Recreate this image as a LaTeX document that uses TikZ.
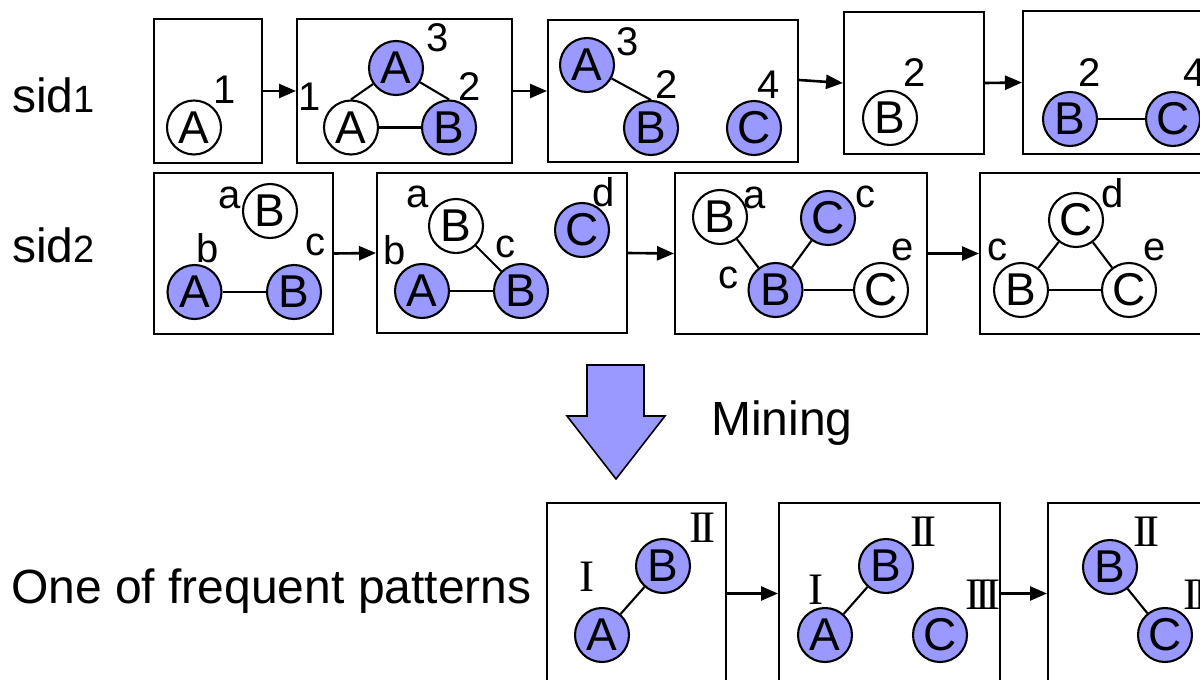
\documentclass[tikz,border=0pt]{standalone}
\usepackage{fontspec}
\setmainfont{Liberation Sans}
\newfontfamily\rmserif{Liberation Serif}
\usetikzlibrary{arrows.meta}
\definecolor{nodeblue}{HTML}{9999FF}
\newcommand{\numI}{{\rmserif I}}
\newcommand{\numII}{{\rmserif I\kern-0.09em I}}
\newcommand{\numIII}{{\rmserif I\kern-0.11em I\kern-0.11em I}}
\begin{document}
\begin{tikzpicture}[x=1pt,y=-1pt,
  frame/.style={draw=black, line width=2pt, inner sep=0pt},
  vb/.style={circle, draw=black, line width=2.1pt, fill=nodeblue, minimum size=54pt, inner sep=0pt, font=\fontsize{46}{46}\selectfont},
  vw/.style={vb, fill=white},
  lbl/.style={inner sep=0pt, font=\fontsize{40}{40}\selectfont},
  rom/.style={inner sep=0pt, font=\fontsize{45}{45}\selectfont},
  big/.style={inner sep=0pt, anchor=base west, font=\fontsize{48}{48}\selectfont},
  edge/.style={line width=2.1pt},
  flow/.style={line width=2.6pt, -{Triangle[length=17pt,width=14pt]}},
]
\useasboundingbox (0,0) rectangle (1200,680);
\clip (0,0) rectangle (1200,680);

% ---------- left labels ----------
\node[big] (sidA) at (12,112) {sid\fontsize{38}{38}\selectfont 1};
\node[big] (sidB) at (12,262) {sid\fontsize{38}{38}\selectfont 2};
\node[big] (pat) at (11,603) {One of frequent patterns};
\node[big] (mining) at (711,435) {Mining};

% ---------- row 1 boxes ----------
\node[frame, minimum width=108pt, minimum height=144pt] (r1) at (208,91) {};
\node[frame, minimum width=215pt, minimum height=144pt] (r2) at (404.5,91) {};
\node[frame, minimum width=250pt, minimum height=142pt] (r3) at (673,91) {};
\node[frame, minimum width=140pt, minimum height=142pt] (r4) at (914,83) {};
\node[frame, minimum width=200pt, minimum height=143pt] (r5) at (1123,82.5) {};
\draw[flow] (r1.east) -- (r2.west);
\draw[flow] (r2.east) -- (r3.west);
\draw[flow] ([yshift=11pt]r3.east) -- (r4.west);
\draw[flow] (r4.east) -- (r5.west);

% box 1
\node[vw] (a11) at (194,127.5) {A};
\node[lbl] (l11) at (225,90) {1};
% box 2
\node[vb] (a21) at (396,68) {A};
\node[vw] (a22) at (351,127.5) {A};
\node[vb] (b21) at (449,127.5) {B};
\node[lbl] (l21) at (438,38) {3};
\node[lbl] (l22) at (310,97) {1};
\node[lbl] (l23) at (470,87) {2};
\draw[edge] (a21) -- (a22.north);
\draw[edge] (a21) -- (b21.north);
\draw[edge] (a22) -- (b21);
% box 3
\node[vb] (a31) at (587,65) {A};
\node[vb] (b31) at (651,128) {B};
\node[vb] (c31) at (754,128) {C};
\node[lbl] (l31) at (628,42) {3};
\node[lbl] (l32) at (667,85) {2};
\node[lbl] (l33) at (769,85) {4};
\draw[edge] (a31) -- (b31.north);
% box 4
\node[vw] (b41) at (890,118) {B};
\node[lbl] (l41) at (915,73) {2};
% box 5
\node[vb] (b51) at (1070,119) {B};
\node[vb] (c51) at (1173,119) {C};
\node[lbl] (l51) at (1090,73) {2};
\node[lbl] (l52) at (1195,73) {4};
\draw[edge] (b51) -- (c51);

% ---------- row 2 boxes ----------
\node[frame, minimum width=179pt, minimum height=161pt] (s1) at (243.5,253.5) {};
\node[frame, minimum width=250pt, minimum height=160pt] (s2) at (502,253) {};
\node[frame, minimum width=252pt, minimum height=161pt] (s3) at (801,253.5) {};
\node[frame, minimum width=240pt, minimum height=161pt] (s4) at (1100,253.5) {};
\draw[flow] (s1.east) -- (s2.west);
\draw[flow] (s2.east) -- (s3.west);
\draw[flow] (s3.east) -- (s4.west);

% sid2 box 1
\node[vw] (q11) at (270,211) {B};
\node[vb] (q12) at (194.5,292) {A};
\node[vb] (q13) at (294,292) {B};
\node[lbl] (m11) at (230,198) {a};
\node[lbl] (m12) at (208,248) {b};
\node[lbl] (m13) at (315,245) {c};
\draw[edge] (q12) -- (q13);
% sid2 box 2
\node[vw] (q21) at (456,226) {B};
\node[vb] (q22) at (422,291) {A};
\node[vb] (q23) at (521,291) {B};
\node[vb] (q24) at (582,230) {C};
\node[lbl] (m21) at (418,197) {a};
\node[lbl] (m22) at (395,250) {b};
\node[lbl] (m23) at (505,247) {c};
\node[lbl] (m24) at (604,192) {d};
\draw[edge] (q22) -- (q23);
\draw[edge] (q21) -- (q23);
% sid2 box 3
\node[vw] (q31) at (720,217) {B};
\node[vb] (q32) at (828,218) {C};
\node[vb] (q33) at (775.5,290) {B};
\node[vw] (q34) at (881,290) {C};
\node[lbl] (m31) at (755,198) {a};
\node[lbl] (m32) at (865,197) {c};
\node[lbl] (m33) at (728,278) {c};
\node[lbl] (m34) at (903,250) {e};
\draw[edge] (q31) -- (q33);
\draw[edge] (q32) -- (q33);
\draw[edge] (q33) -- (q34);
% sid2 box 4
\node[vw] (q41) at (1076,220) {C};
\node[vw] (q42) at (1021,290) {B};
\node[vw] (q43) at (1129,290) {C};
\node[lbl] (m41) at (1113,193) {d};
\node[lbl] (m42) at (997,250) {c};
\node[lbl] (m43) at (1155,250) {e};
\draw[edge] (q41) -- (q42);
\draw[edge] (q41) -- (q43);
\draw[edge] (q42) -- (q43);

% ---------- mining arrow ----------
\draw[fill=nodeblue, line width=1.6pt, line join=miter]
  (587,365) -- (644,365) -- (644,416) -- (665,416) -- (616,479) -- (567,416) -- (587,416) -- cycle;

% ---------- pattern boxes ----------
\node[frame, minimum width=179pt, minimum height=181pt] (p1) at (636.5,593.5) {};
\node[frame, minimum width=221pt, minimum height=181pt] (p2) at (889.5,593.5) {};
\node[frame, minimum width=180pt, minimum height=181pt] (p3) at (1138,593.5) {};
\draw[flow] (p1.east) -- (p2.west);
\draw[flow] (p2.east) -- (p3.west);

% pattern 1
\node[vb] (u11) at (663,566) {B};
\node[vb] (u12) at (602,635) {A};
\node[rom] (n11) at (702,528) {\numII};
\node[rom] (n12) at (587,577) {\numI};
\draw[edge] (u12) -- (u11);
% pattern 2
\node[vb] (u21) at (886,566) {B};
\node[vb] (u22) at (825,635) {A};
\node[vb] (u23) at (940,635) {C};
\node[rom] (n21) at (816,590) {\numI};
\node[rom] (n22) at (923,532) {\numII};
\node[rom] (n23) at (983,595) {\numIII};
\draw[edge] (u22) -- (u21);
% pattern 3
\node[vb] (u31) at (1110,567) {B};
\node[vb] (u32) at (1165,635) {C};
\node[rom] (n31) at (1146,532) {\numII};
\node[rom] (n32) at (1201,595) {\numIII};
\draw[edge] (u31) -- (u32);
\end{tikzpicture}
\end{document}
